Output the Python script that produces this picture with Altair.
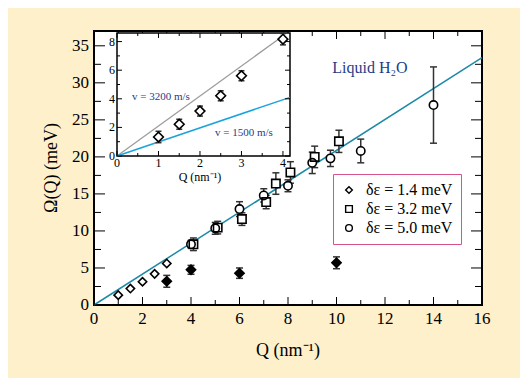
import altair as alt
import pandas as pd

# ---------------- data ----------------
legend_labels = ["δε = 1.4 meV", "δε = 3.2 meV", "δε = 5.0 meV"]

q_d14 = [1.0, 1.5, 2.0, 2.5, 3.0]
w_d14 = [1.33, 2.22, 3.14, 4.21, 5.61]

q_fill = [3.0, 4.0, 6.0, 10.0]
w_fill = [3.2, 4.75, 4.3, 5.7]
e_fill = [0.8, 0.6, 0.7, 0.8]

q_d32 = [4.1, 5.1, 6.1, 7.1, 7.5, 8.1, 9.1, 10.1]
w_d32 = [8.2, 10.45, 11.6, 13.9, 16.4, 17.9, 20.0, 22.1]
e_d32 = [0.85, 0.85, 0.85, 0.9, 1.45, 1.45, 1.45, 1.5]

q_d50 = [4.0, 5.0, 6.0, 7.0, 8.0, 9.0, 9.75, 11.0, 14.0]
w_d50 = [8.2, 10.35, 12.95, 14.8, 16.1, 19.2, 19.8, 20.8, 27.0]
e_d50 = [0.5, 0.8, 1.0, 0.9, 0.8, 1.45, 1.1, 1.6, 5.15]

line_main_q = [0.0, 16.0]
line_main_w = [0.0, 33.4]

x_major = [0, 2, 4, 6, 8, 10, 12, 14, 16]
x_minor = [1, 3, 5, 7, 9, 11, 13, 15]
y_major = [0, 5, 10, 15, 20, 25, 30, 35]
y_minor = [2.5, 7.5, 12.5, 17.5, 22.5, 27.5, 32.5]

x_title = "Q (nm⁻¹)"
y_title = "Ω(Q) (meV)"

# inset
q_ins = [1.0, 1.5, 2.0, 2.5, 3.0, 4.0]
w_ins = [1.33, 2.22, 3.14, 4.21, 5.61, 8.17]
e_ins = [0.4, 0.35, 0.35, 0.35, 0.35, 0.4]

line_3200_q = [0.0, 4.05]
line_3200_w = [0.0, 8.5]
line_1500_q = [0.0, 4.17]
line_1500_w = [0.0, 4.1]

ins_x_domain = [0.0, 4.17]
ins_y_domain = [0.0, 8.6]
ins_x_major = [0, 1, 2, 3, 4]
ins_x_minor = [0.5, 1.5, 2.5, 3.5]
ins_y_major = [0, 2, 4, 6, 8]
ins_y_minor = [1, 3, 5, 7]

# ---------------- layout / style ----------------
W, H = 388, 274
FONT = "Liberation Serif"
BLACK = "black"
TEAL = "#1C89A8"
BLUE = "#1BA3DC"
GREY = "#9C9C9C"
NAVY = "#1F3C88"
PINK = "#D6538C"
BG = "#FEF0CB"
ERR = "#333333"

xs = alt.Scale(domain=[0, 16], nice=False, zero=False)
ys = alt.Scale(domain=[0, 37], nice=False, zero=False)
ixs = alt.Scale(domain=ins_x_domain, range=[23, 196], nice=False, zero=False)
iys = alt.Scale(domain=ins_y_domain, range=[125, 2], nice=False, zero=False)

def X(f, s=xs):
    return alt.X(f, scale=s, axis=None)

def Y(f, s=ys):
    return alt.Y(f, scale=s, axis=None)

# ---------------- main tables ----------------
def series_df(q, w, name):
    return pd.DataFrame({"Q": q, "W": w, "series": name})

pts = pd.concat([series_df(q_d14, w_d14, legend_labels[0]),
                 series_df(q_d32, w_d32, legend_labels[1]),
                 series_df(q_d50, w_d50, legend_labels[2])], ignore_index=True)

def err_df(q, w, e):
    return pd.DataFrame({"Q": q, "lo": [a - b for a, b in zip(w, e)], "hi": [a + b for a, b in zip(w, e)]})

err = pd.concat([err_df(q_d32, w_d32, e_d32), err_df(q_d50, w_d50, e_d50),
                 err_df(q_fill, w_fill, e_fill)], ignore_index=True)

filled = pd.DataFrame({"Q": q_fill, "W": w_fill})
main_line = pd.DataFrame({"Q": line_main_q, "W": line_main_w})

line_l = alt.Chart(main_line).mark_line(color=TEAL, strokeWidth=1.5).encode(x=X("Q:Q"), y=Y("W:Q"))

bars = alt.Chart(err).mark_rule(color=ERR, strokeWidth=1.5).encode(x=X("Q:Q"), y=Y("lo:Q"), y2="hi:Q")
cap_lo = alt.Chart(err).mark_tick(color=ERR, orient="horizontal", size=7, thickness=1.5, opacity=1).encode(
    x=X("Q:Q"), y=Y("lo:Q"))
cap_hi = alt.Chart(err).mark_tick(color=ERR, orient="horizontal", size=7, thickness=1.5, opacity=1).encode(
    x=X("Q:Q"), y=Y("hi:Q"))

underlays = []
for name, shp in zip(legend_labels, ["diamond", "square", "circle"]):
    underlays.append(alt.Chart(pts).transform_filter(alt.datum.series == name).mark_point(
        filled=True, fill="white", shape=shp, size=70, opacity=1, strokeWidth=0).encode(
        x=X("Q:Q"), y=Y("W:Q")))

points = alt.Chart(pts).mark_point(filled=False, color=BLACK, strokeWidth=1.6,
                                   size=70, opacity=1).encode(
    x=X("Q:Q"), y=Y("W:Q"),
    shape=alt.Shape("series:N",
                    scale=alt.Scale(domain=legend_labels, range=["diamond", "square", "circle"]),
                    legend=alt.Legend(title=None, orient="none", legendX=239, legendY=143,
                                      strokeColor=PINK, fillColor="white", padding=8,
                                      labelFont=FONT, labelFontSize=16, labelColor=BLACK,
                                      symbolSize=45, symbolStrokeWidth=1.4,
                                      symbolStrokeColor=BLACK,
                                      rowPadding=3, labelOffset=9)),
)

fpoints = alt.Chart(filled).mark_point(filled=True, fill=BLACK, stroke=BLACK, shape="diamond",
                                       size=75, opacity=1).encode(x=X("Q:Q"), y=Y("W:Q"))

def rules_x(vals, length, top):
    d = pd.DataFrame({"t": vals})
    if top:
        return alt.Chart(d).mark_rule(color=BLACK, strokeWidth=1).encode(
            x=X("t:Q"), y=alt.value(0), y2=alt.value(length))
    return alt.Chart(d).mark_rule(color=BLACK, strokeWidth=1).encode(
        x=X("t:Q"), y=alt.value(H), y2=alt.value(H - length))

def rules_y(vals, length, right):
    d = pd.DataFrame({"t": vals})
    if right:
        return alt.Chart(d).mark_rule(color=BLACK, strokeWidth=1).encode(
            y=Y("t:Q"), x=alt.value(W), x2=alt.value(W - length))
    return alt.Chart(d).mark_rule(color=BLACK, strokeWidth=1).encode(
        y=Y("t:Q"), x=alt.value(0), x2=alt.value(length))

ticks_main = [
    rules_x(x_major, 8, False), rules_x(x_minor, 5, False),
    rules_x(x_major, 8, True), rules_x(x_minor, 5, True),
    rules_y(y_major, 11, False), rules_y(y_minor, 7, False),
    rules_y(y_major, 11, True), rules_y(y_minor, 7, True),
]

xlab = alt.Chart(pd.DataFrame({"t": x_major, "s": [str(v) for v in x_major]})).mark_text(
    font=FONT, fontSize=17, color=BLACK, baseline="top", dy=6).encode(
    x=X("t:Q"), y=alt.value(H), text="s:N")
ylab = alt.Chart(pd.DataFrame({"t": y_major, "s": [str(v) for v in y_major]})).mark_text(
    font=FONT, fontSize=17, color=BLACK, align="right", baseline="middle", dx=-5).encode(
    y=Y("t:Q"), x=alt.value(0), text="s:N")
xtit = alt.Chart(pd.DataFrame({"s": [x_title]})).mark_text(
    font=FONT, fontSize=18, color=BLACK, baseline="middle").encode(
    x=alt.value(W / 2), y=alt.value(H + 46), text="s:N")
ytit = alt.Chart(pd.DataFrame({"s": [y_title]})).mark_text(
    font=FONT, fontSize=18, color=BLACK, baseline="middle", angle=270).encode(
    x=alt.value(-42), y=alt.value(H / 2), text="s:N")

liquid = alt.Chart(pd.DataFrame({"s": ["Liquid H₂O"]})).mark_text(
    font=FONT, fontSize=16, color=NAVY).encode(
    x=alt.XDatum(11.38, scale=xs, axis=None), y=alt.YDatum(32.0, scale=ys, axis=None), text="s:N")

main = alt.layer(line_l, *ticks_main, bars, cap_lo, cap_hi, fpoints, *underlays, points,
                 liquid, xlab, ylab, xtit, ytit)

# ---------------- inset ----------------
frame = alt.Chart(pd.DataFrame({"x0": [ins_x_domain[0]], "x1": [ins_x_domain[1]],
                                "y0": [ins_y_domain[0]], "y1": [ins_y_domain[1]]})).mark_rect(
    fill="white", stroke=BLACK, strokeWidth=1.5).encode(
    x=X("x0:Q", ixs), x2="x1:Q", y=Y("y0:Q", iys), y2="y1:Q")

l3200 = alt.Chart(pd.DataFrame({"Q": line_3200_q, "W": line_3200_w})).mark_line(
    color=GREY, strokeWidth=1.3).encode(x=X("Q:Q", ixs), y=Y("W:Q", iys))
l1500 = alt.Chart(pd.DataFrame({"Q": line_1500_q, "W": line_1500_w})).mark_line(
    color=BLUE, strokeWidth=1.5).encode(x=X("Q:Q", ixs), y=Y("W:Q", iys))

ins_df = pd.DataFrame({"Q": q_ins, "W": w_ins,
                       "lo": [w - e for w, e in zip(w_ins, e_ins)],
                       "hi": [w + e for w, e in zip(w_ins, e_ins)]})
ibars = alt.Chart(ins_df).mark_rule(color=ERR, strokeWidth=1.5).encode(
    x=X("Q:Q", ixs), y=Y("lo:Q", iys), y2="hi:Q")
icap_lo = alt.Chart(ins_df).mark_tick(color=ERR, orient="horizontal", size=6, thickness=1.5, opacity=1).encode(
    x=X("Q:Q", ixs), y=Y("lo:Q", iys))
icap_hi = alt.Chart(ins_df).mark_tick(color=ERR, orient="horizontal", size=6, thickness=1.5, opacity=1).encode(
    x=X("Q:Q", ixs), y=Y("hi:Q", iys))
ipts = alt.Chart(ins_df).mark_point(filled=True, fill="white", stroke=BLACK, strokeWidth=1.6,
                                    shape="diamond", size=95, opacity=1).encode(
    x=X("Q:Q", ixs), y=Y("W:Q", iys))

def iticks_x(vals, length, top):
    d = pd.DataFrame({"t": vals})
    yv = ins_y_domain[1] if top else ins_y_domain[0]
    off = length / 2 if top else -length / 2
    return alt.Chart(d).mark_tick(color=BLACK, orient="vertical", size=length, thickness=1,
                                  opacity=1, yOffset=off).encode(
        x=X("t:Q", ixs), y=alt.YDatum(yv, scale=iys, axis=None))

def iticks_y(vals, length, right):
    d = pd.DataFrame({"t": vals})
    xv = ins_x_domain[1] if right else ins_x_domain[0]
    off = -length / 2 if right else length / 2
    return alt.Chart(d).mark_tick(color=BLACK, orient="horizontal", size=length, thickness=1,
                                  opacity=1, xOffset=off).encode(
        y=Y("t:Q", iys), x=alt.XDatum(xv, scale=ixs, axis=None))

iticks = [
    iticks_x(ins_x_major, 5, False), iticks_x(ins_x_minor, 3, False),
    iticks_x(ins_x_major, 5, True), iticks_x(ins_x_minor, 3, True),
    iticks_y(ins_y_major, 5, False), iticks_y(ins_y_minor, 3, False),
    iticks_y(ins_y_major, 5, True), iticks_y(ins_y_minor, 3, True),
]

ixlab = alt.Chart(pd.DataFrame({"t": ins_x_major, "s": [str(v) for v in ins_x_major]})).mark_text(
    font=FONT, fontSize=12, color=BLACK, baseline="top", dy=2).encode(
    x=X("t:Q", ixs), y=alt.YDatum(ins_y_domain[0], scale=iys, axis=None), text="s:N")
iylab = alt.Chart(pd.DataFrame({"t": ins_y_major, "s": [str(v) for v in ins_y_major]})).mark_text(
    font=FONT, fontSize=12, color=BLACK, align="right", baseline="middle", dx=-2).encode(
    y=Y("t:Q", iys), x=alt.XDatum(ins_x_domain[0], scale=ixs, axis=None), text="s:N")
ititle = alt.Chart(pd.DataFrame({"s": [x_title]})).mark_text(
    font=FONT, fontSize=12, color=BLACK, baseline="top", dy=16).encode(
    x=alt.XDatum(2.0, scale=ixs, axis=None), y=alt.YDatum(ins_y_domain[0], scale=iys, axis=None),
    text="s:N")
t3200 = alt.Chart(pd.DataFrame({"s": ["v = 3200 m/s"]})).mark_text(
    font=FONT, fontSize=11, color=NAVY).encode(
    x=alt.XDatum(1.06, scale=ixs, axis=None), y=alt.YDatum(4.12, scale=iys, axis=None), text="s:N")
t1500 = alt.Chart(pd.DataFrame({"s": ["v = 1500 m/s"]})).mark_text(
    font=FONT, fontSize=11, color=NAVY).encode(
    x=alt.XDatum(3.06, scale=ixs, axis=None), y=alt.YDatum(1.6, scale=iys, axis=None), text="s:N")

inset = alt.layer(frame, l3200, l1500, *iticks, ibars, icap_lo, icap_hi, ipts,
                  ixlab, iylab, ititle, t3200, t1500)

chart = alt.layer(main, inset).resolve_scale(x="independent", y="independent").properties(
    width=W, height=H,
    autosize=alt.AutoSizeParams(type="none"),
    padding={"left": 86, "top": 23, "right": 38, "bottom": 73},
    background=BG,
).configure_view(fill="white", stroke=BLACK, strokeWidth=2)

chart.save("out.html", embed_options={"renderer": "svg", "actions": False})
